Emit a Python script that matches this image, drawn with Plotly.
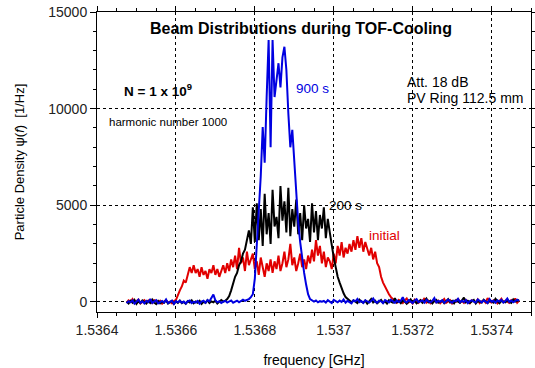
import plotly.graph_objects as go

# ---- data ----
F_START = 1.536475   # GHz, first sample
F_STEP = 0.000005    # GHz, sample spacing

initial_vals = [
    -50, 80, 20, 150, -40, 60, 120, -80, 30, 90, -20, 70, 10, -60, 100, 40, -30, 60, -90, 20, 80, -40, 10, -70, 50,
    100, 400, 600, 800, 1100, 1000, 1400, 1800, 1500, 1900,
    1500, 1700, 1300, 1800, 1400, 1600, 1200, 1700, 1500, 1900,
    1400, 1700, 1300, 1600, 1900, 1500, 2000, 1600, 2200, 1800,
    2400, 1700, 2800, 2000, 2300, 1600, 2600, 1900, 2200, 2500,
    1700, 2100, 1400, 2300, 1800, 1300, 2000, 1600, 2200, 1500,
    2100, 1700, 2400, 1600, 2000, 2600, 1800, 2200, 3000, 1900,
    2300, 1600, 2000, 2500, 1800, 2200, 1700, 2400, 2000, 2700,
    2100, 3200, 2400, 2900, 2000, 2600, 1800, 2300, 2100, 1700,
    2500, 2000, 2900, 2400, 3100, 2300, 2800, 2500, 3000, 2600,
    3200, 2700, 3400, 2800, 3300, 2600, 3100, 2700, 2400, 2800,
    2200, 2600, 2000, 1800, 1300, 1000, 800, 550, 400, 250,
    150, 60, -40, 100, 20, -60, 80, 180, -20, 40,
    -80, 120, 30, -50, 90, 10, 200, -30, 60, -70,
    40, 110, -20, 70, -60, 30, 150, -40, 20, 90,
    -80, 50, 10, 170, -30, 60, -50, 100, 20, -70,
    80, 40, -20, 130, -60, 30, 70, -40, 200, 10,
    -30, 90, 50, -80, 40, 160, -20, 60, 20, -50,
    100, 30, 180, -40, 70,
]

s200_vals = [
    20, -80, 60, -40, 100, -100, 30, -60, 80, -20,
    -90, 40, -50, 120, -30, -110, 50, -70, 10, -40,
    90, -80, -20, 60, -100, 30, -50, 70, -60, 0,
    -90, 40, -30, 80, -70, 20, -40, 60, -100, 10,
    -50, 90, -60, 30, -20, 70, -80, 40, 100, 20,
    60, 150, 300, 600, 1000, 1300, 1500, 1900, 2100, 2500, 2700, 3300, 3700, 3000, 4900, 3100, 5100,
    3200, 4800, 2900, 5600, 3500, 4600, 3000, 5800, 3900, 4400,
    3300, 6000, 4200, 5200, 3600, 5900, 3400, 4800, 3900, 5300,
    3500, 4600, 3200, 5000, 3800, 4300, 3100, 5100, 3600, 4700,
    3200, 4500, 3800, 4900, 3300, 4300, 3600, 2900,
    2300, 1800, 1300, 1000, 700, 450, 250, 150, 60,
    -20, 80, 30, -60, 120, 10, -40, 70, -90, 40,
    150, -30, 60, -70, 20, 100, -50, 30, -80, 90,
    10, -40, 200, -20, 50, -60, 80, 20, -90, 40,
    130, -30, 60, -70, 10, 90, -50, 30, 170, -20,
    60, -80, 40, 110, -40, 20, 70, -60, 30, 150,
    -30, 50, -70, 90, 10, -40, 80, 220, -20, 60,
    -50, 30, 100, -80, 40, 10, -30, 120, 50, -60,
    80, 20, -40, 160, 30, -70, 60, 10, -20, 90,
    40, -50, 130, 20, 60, 100,
]

s900_vals = [
    -60, 40, -20, 80, -90, 10, 120, -40, 30, -80,
    60, -10, 150, -50, 20, 90, -70, 0, 50, -30,
    130, -60, 10, 70, -100, 40, -20, 60, -40, 20,
    -80, 30, 80, -60, 10, -30, 50, -90, 20, 60,
    -40, 100, 30, 250, 380, 90, -20, 40, -50, 20,
    60, -30, 10, 80, -40, 30, 70, -20, 50, 120,
    60, 90, 150, 250, 400, 1200, 2800, 4600, 6500, 9050,
    7200, 10600, 13550, 8000, 13550, 10600, 11600, 12350, 11100, 12650,
    13200, 12000, 9750, 8000, 8900, 7200, 5200, 4100, 3100, 2200,
    1500, 900, 400, 150, 60, 20, 80, -20, 40, 10,
    50, -30, 90, 20, -60, 110, 40, -20, 70, 0,
    130, -40, 60, 10, -70, 80, 30, 150, -10, 50,
    -50, 90, 20, -30, 60, 180, 10, -40, 70, 30,
    -60, 100, 40, -20, 120, 50, -50, 80, 0, 60,
    250, 30, -30, 90, 20, -60, 70, 140, -10, 40,
    80, -40, 110, 30, -20, 60, 200, -30, 50, 10,
    90, -50, 40, 120, 20, -40, 70, 30, 160, -20,
    60, 0, 100, -60, 40, 80, 20, -30, 130, 50,
    -20, 90, 30, -50, 150, 10, 60, -40, 80, 20,
    110, -30, 50, 180, 0, 70, -20, 40, 120, 60,
]

x_tickvals = [1.5364, 1.5366, 1.5368, 1.5370, 1.5372, 1.5374]
x_ticktext = ["1.5364", "1.5366", "1.5368", "1.537", "1.5372", "1.5374"]
y_tickvals = [0, 5000, 10000, 15000]
y_ticktext = ["0", "5000", "10000", "15000"]


def freq(n):
    return [F_START + F_STEP * i for i in range(n)]


FONT = "Liberation Sans, Arial, sans-serif"

fig = go.Figure()
fig.add_trace(go.Scatter(x=freq(len(initial_vals)), y=initial_vals, mode="lines",
                         line=dict(color="rgb(225,0,0)", width=2), name="initial"))
fig.add_trace(go.Scatter(x=freq(len(s200_vals)), y=s200_vals, mode="lines",
                         line=dict(color="black", width=2), name="200 s"))
fig.add_trace(go.Scatter(x=freq(len(s900_vals)), y=s900_vals, mode="lines",
                         line=dict(color="rgb(0,0,225)", width=2), name="900 s"))

ann = [
    dict(x=1.536917, y=14168, text="<b>Beam Distributions during TOF-Cooling</b>",
         xanchor="center", font=dict(size=16, color="black")),
    dict(x=1.536463, y=10962, text="<b>N = 1 x 10<sup>9</sup></b>", xanchor="left",
         font=dict(size=13.5, color="black")),
    dict(x=1.536425, y=9307, text="harmonic number 1000", xanchor="left",
         font=dict(size=11.5, color="black")),
    dict(x=1.536900, y=11065, text="900 s", xanchor="left",
         font=dict(size=13.5, color="rgb(0,0,225)")),
    dict(x=1.537180, y=11375, text="Att. 18 dB", xanchor="left",
         font=dict(size=14, color="black")),
    dict(x=1.537180, y=10548, text="PV Ring 112.5 mm", xanchor="left",
         font=dict(size=14, color="black")),
    dict(x=1.536983, y=4964, text="200 s", xanchor="left",
         font=dict(size=13.5, color="black")),
    dict(x=1.537085, y=3413, text="initial", xanchor="left",
         font=dict(size=13.5, color="rgb(225,0,0)")),
]
for a in ann:
    a.update(xref="x", yref="y", showarrow=False, yanchor="middle")

fig.update_layout(
    width=535, height=368,
    margin=dict(l=97, r=4, t=12, b=56, autoexpand=False),
    paper_bgcolor="white", plot_bgcolor="white",
    showlegend=False,
    font=dict(family=FONT, size=13, color="black"),
    annotations=ann,
)
fig.update_xaxes(
    range=[1.5364, 1.5375], automargin=False,
    tickvals=x_tickvals, ticktext=x_ticktext,
    showline=True, linecolor="black", linewidth=1, mirror="ticks",
    ticks="outside", ticklen=5, tickcolor="black",
    minor=dict(ticks="outside", dtick=0.00005, tick0=1.5364, ticklen=3, tickcolor="black", showgrid=False),
    showgrid=True, gridcolor="black", gridwidth=1, griddash="dot",
    zeroline=False,
    title=dict(text="frequency [GHz]", font=dict(size=14), standoff=22),
    tickfont=dict(size=14, color="#222"),
)
fig.update_yaxes(
    range=[-520, 15000], automargin=False,
    tickvals=y_tickvals, ticktext=y_ticktext,
    showline=True, linecolor="black", linewidth=1, mirror="ticks",
    ticks="outside", ticklen=6, tickcolor="black",
    minor=dict(ticks="outside", dtick=1000, tick0=0, ticklen=3, tickcolor="black", showgrid=False),
    showgrid=True, gridcolor="black", gridwidth=1, griddash="dot",
    zeroline=False,
    title=dict(text="Particle Density ψ(<i>f</i>)  [1/Hz]", font=dict(size=13), standoff=20),
    tickfont=dict(size=14, color="#222"),
)

fig.write_html("out.html")
